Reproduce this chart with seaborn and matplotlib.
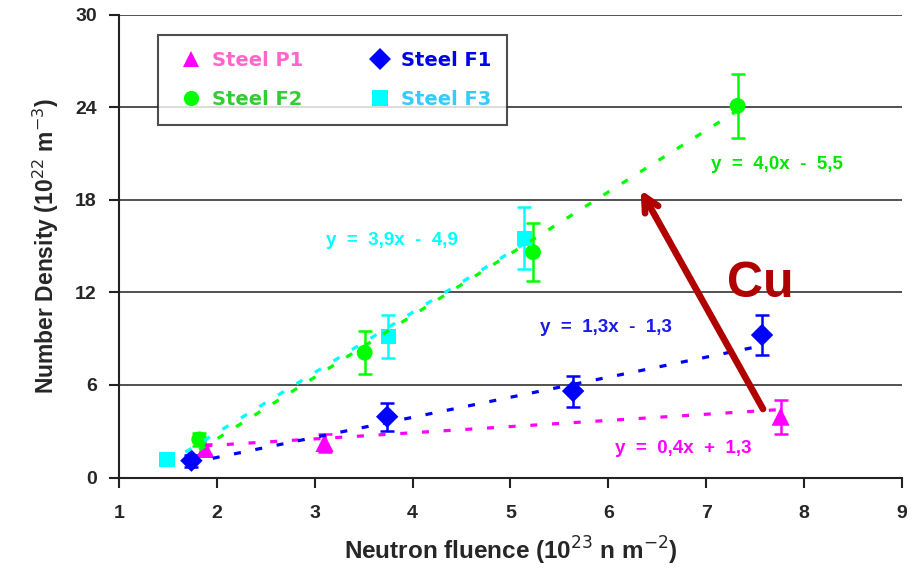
import numpy as np
import pandas as pd
import matplotlib
matplotlib.use("Agg")
import matplotlib.pyplot as plt
from matplotlib.lines import Line2D
import seaborn as sns

# ---- data ----
steels = ["Steel P1", "Steel F1", "Steel F2", "Steel F3"]

p1_x = [1.88, 3.10, 7.76]
p1_y = [1.85, 2.24, 3.94]
p1_err = [0.3, 0.6, 1.1]

f1_x = [1.74, 3.74, 5.64, 7.57]
f1_y = [1.09, 3.94, 5.60, 9.23]
f1_err = [0.4, 0.9, 1.0, 1.3]

f2_x = [1.82, 3.51, 5.23, 7.32]
f2_y = [2.47, 8.09, 14.60, 24.08]
f2_err = [0.4, 1.4, 1.9, 2.05]

f3_x = [1.49, 3.75, 5.14]
f3_y = [1.18, 9.13, 15.50]
f3_err = [0.3, 1.4, 2.0]

fit_slope = [0.4, 1.3, 4.0, 3.9]
fit_intercept = [1.3, -1.3, -5.5, -4.9]
fit_labels = ["y  =  0,4x  +  1,3", "y  =  1,3x  -  1,3", "y  =  4,0x  -  5,5", "y  =  3,9x  -  4,9"]

x_ticks = [1, 2, 3, 4, 5, 6, 7, 8, 9]
y_ticks = [0, 6, 12, 18, 24, 30]

# ---- styling ----
marker_colors = {"Steel P1": "#ff00ff", "Steel F1": "#0000ff", "Steel F2": "#00ff00", "Steel F3": "#00ffff"}
legend_text_colors = {"Steel P1": "#ff66cc", "Steel F1": "#0000ee", "Steel F2": "#33cc33", "Steel F3": "#33ccff"}
eq_colors = {"Steel P1": "#ff00ff", "Steel F1": "#1a1aee", "Steel F2": "#00e600", "Steel F3": "#00ffff"}
markers = {"Steel P1": "^", "Steel F1": "D", "Steel F2": "o", "Steel F3": "s"}
sizes = {"Steel P1": 170, "Steel F1": 130, "Steel F2": 130, "Steel F3": 120}
eq_pos = {"Steel P1": (6.76, 1.85), "Steel F1": (5.97, 9.75), "Steel F2": (7.72, 20.25), "Steel F3": (3.79, 15.33)}

series = {
    "Steel P1": (p1_x, p1_y, p1_err),
    "Steel F1": (f1_x, f1_y, f1_err),
    "Steel F2": (f2_x, f2_y, f2_err),
    "Steel F3": (f3_x, f3_y, f3_err),
}

frames = []
for name, (xs, ys, es) in series.items():
    frames.append(pd.DataFrame({"fluence": xs, "density": ys, "err": es, "steel": name}))
df = pd.concat(frames, ignore_index=True)

sns.set_theme(style="white")
plt.rcParams["font.family"] = ["Liberation Sans", "DejaVu Sans"]

fig = plt.figure(figsize=(9.2, 5.78), dpi=100)
ax = fig.add_axes([119 / 920, 1 - 477.5 / 578, (902 - 119) / 920, (477.5 - 14.5) / 578])

# grid lines
for yv in y_ticks[1:]:
    ax.axhline(yv, color="#333333", lw=1.2, zorder=0)

# error bars
for name in steels:
    sub = df[df.steel == name]
    ax.errorbar(sub.fluence, sub.density, yerr=sub.err, fmt="none",
                ecolor=marker_colors[name], elinewidth=1.8, capsize=4.8,
                capthick=1.8, zorder=2)

# points
for name in steels:
    sub = df[df.steel == name]
    sns.scatterplot(data=sub, x="fluence", y="density", marker=markers[name],
                    color=marker_colors[name], s=sizes[name], edgecolor="none",
                    linewidth=0, ax=ax, zorder=3, legend=False)

# trend lines
for i, name in enumerate(steels):
    xs = series[name][0]
    xr = np.array([min(xs), max(xs)])
    tl = pd.DataFrame({"fluence": xr, "density": fit_slope[i] * xr + fit_intercept[i]})
    sns.lineplot(data=tl, x="fluence", y="density", color=marker_colors[name],
                 lw=2.3, ax=ax, zorder=4, legend=False)
    ax.lines[-1].set_linestyle((0, (2.2, 4.6)))
    ax.lines[-1].set_dash_capstyle("butt")
    ex, ey = eq_pos[name]
    ax.text(ex, ey, fit_labels[i], color=eq_colors[name], fontsize=13.5,
            fontweight="bold", ha="center", va="center", zorder=5)

# arrow and Cu label
ax.annotate("", xy=(6.33, 18.63), xytext=(7.58, 4.44),
            arrowprops=dict(arrowstyle="->,head_length=0.9,head_width=0.45",
                            color="#b00000", lw=4.8, shrinkA=0, shrinkB=0),
            zorder=6)
ax.text(7.55, 12.55, "Cu", color="#b00000", fontsize=36, fontweight="bold",
        ha="center", va="center", zorder=6)

ax.set_xlim(1, 9)
ax.set_ylim(0, 30)
ax.set_xticks(x_ticks)
ax.set_yticks(y_ticks)
ax.set_xticklabels([str(t) for t in x_ticks], fontsize=14, fontweight="bold")
ax.set_yticklabels([str(t) for t in y_ticks], fontsize=14, fontweight="bold")
ax.tick_params(axis="x", direction="out", length=7, width=1.5, pad=13, color="#222222")
ax.tick_params(axis="y", direction="out", length=7, width=1.5, pad=9, color="#222222")
ax.tick_params(bottom=True, left=True)
for s in ["top", "right"]:
    ax.spines[s].set_visible(False)
for s in ["left", "bottom"]:
    ax.spines[s].set_color("#222222")
    ax.spines[s].set_linewidth(1.5)
ax.grid(False)

ax.set_xlabel("Neutron fluence (10$^{23}$ n m$^{\\mathsf{-2}}$)", fontsize=17.5, fontweight="bold", labelpad=9)
ax.set_ylabel("Number Density (10$^{22}$ m$^{\\mathsf{-3}}$)", fontsize=16.5, fontweight="bold", labelpad=10)

# legend
order = ["Steel P1", "Steel F2", "Steel F1", "Steel F3"]
handles = [Line2D([], [], linestyle="none", marker=markers[n], color=marker_colors[n],
                  markersize=11, markeredgewidth=0) for n in order]
axw = 902 - 119
axh = 477.5 - 14.5
leg = ax.legend(handles, order, ncol=2, loc="upper left",
                bbox_to_anchor=((158 - 119) / axw, (477.5 - 35) / axh),
                frameon=True, fancybox=False, edgecolor="#222222",
                borderpad=0.8, labelspacing=1.05, handlelength=1.8, handletextpad=0.2,
                columnspacing=3.0, prop={"family": "DejaVu Sans", "weight": "bold", "size": 14},
                borderaxespad=0)
leg.get_frame().set_linewidth(1.5)
leg.set_zorder(7)
for txt, n in zip(leg.get_texts(), order):
    txt.set_color(legend_text_colors[n])

fig.savefig("out.png", dpi=100, facecolor="white")
